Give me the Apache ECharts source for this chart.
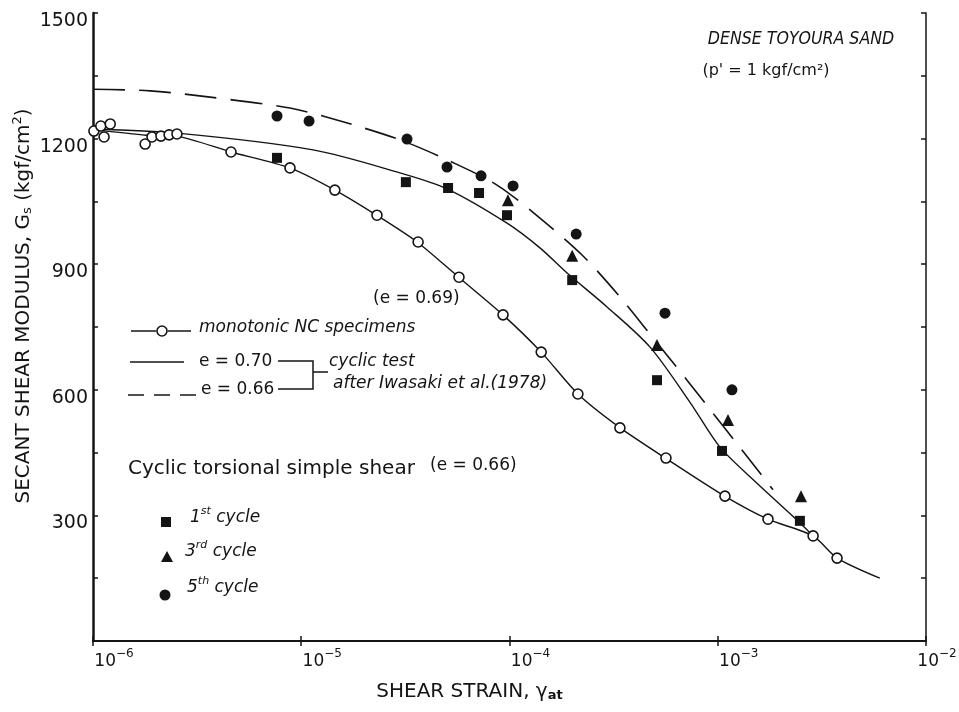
<!DOCTYPE html>
<html>
<head>
<meta charset="utf-8">
<script src="https://cdn.jsdelivr.net/npm/echarts@6/dist/echarts.min.js"></script>
<style>
  html, body { margin: 0; padding: 0; background: #ffffff; }
  #chart { width: 959px; height: 712px; }
</style>
</head>
<body>
<div id="chart"></div>
<script>
const FONT = '"DejaVu Sans", "Liberation Sans", sans-serif';
const INK = '#141414';

// axis ticks
const strainDecades = [-6, -5, -4, -3, -2];
const modulusLabels = [300, 600, 900, 1200, 1500];

// monotonic NC specimens (e = 0.69), measured points
const monoStrain = [1.01e-6, 1.09e-6, 1.21e-6, 1.13e-6, 1.78e-6, 1.92e-6, 2.12e-6, 2.32e-6, 2.53e-6,
  4.60e-6, 8.83e-6, 1.45e-5, 2.31e-5, 3.64e-5, 5.72e-5, 9.31e-5, 1.42e-4, 2.13e-4, 3.39e-4,
  5.64e-4, 1.083e-3, 1.743e-3, 2.87e-3, 3.74e-3];
const monoG = [1218, 1230, 1235, 1204, 1187, 1204, 1206, 1209, 1211,
  1168, 1130, 1077, 1017, 953, 869, 779, 690, 590, 509,
  437, 346, 291, 251, 198];

// fitted curve through the monotonic points
const monoCurveStrain = [1.0e-6, 1.8e-6, 2.5e-6, 4.6e-6, 8.8e-6, 1.45e-5, 2.3e-5, 3.6e-5, 5.7e-5,
  9.3e-5, 1.42e-4, 2.13e-4, 3.4e-4, 5.6e-4, 1.08e-3, 1.74e-3, 2.87e-3, 3.74e-3, 6.0e-3];
const monoCurveG = [1222, 1208, 1206, 1168, 1130, 1077, 1017, 953, 869,
  779, 690, 590, 509, 437, 346, 291, 251, 198, 150];

// cyclic test after Iwasaki et al. (1978), e = 0.70
const iwasaki70Strain = [1.0e-6, 2.53e-6, 1.14e-5, 2.98e-5, 5.01e-5, 9.73e-5, 1.40e-4, 1.89e-4,
  2.94e-4, 4.73e-4, 7.36e-4, 1.025e-3, 1.543e-3, 2.40e-3, 2.87e-3];
const iwasaki70G = [1223, 1213, 1173, 1118, 1080, 998, 939, 879,
  798, 702, 570, 463, 377, 289, 251];

// cyclic test after Iwasaki et al. (1978), e = 0.66
const iwasaki66Strain = [1.0e-6, 1.88e-6, 3.65e-6, 8.83e-6, 1.54e-5, 2.98e-5, 5.18e-5, 8.71e-5,
  1.40e-4, 2.23e-4, 3.39e-4, 4.89e-4, 7.12e-4, 1.07e-3, 1.596e-3, 1.842e-3];
const iwasaki66G = [1318, 1314, 1299, 1273, 1242, 1197, 1146, 1089,
  1010, 922, 822, 724, 623, 511, 401, 361];

// cyclic torsional simple shear (e = 0.66)
const cycle1Strain = [7.65e-6, 3.18e-5, 5.07e-5, 7.14e-5, 9.73e-5, 2.00e-4, 5.11e-4, 1.048e-3, 2.48e-3];
const cycle1G = [1154, 1096, 1082, 1070, 1017, 862, 623, 454, 287];
const cycle3Strain = [9.83e-5, 2.00e-4, 5.11e-4, 1.12e-3, 2.51e-3];
const cycle3G = [1053, 920, 707, 528, 346];
const cycle5Strain = [7.65e-6, 1.09e-5, 3.22e-5, 5.01e-5, 7.30e-5, 1.04e-4, 2.09e-4, 5.58e-4, 1.17e-3];
const cycle5G = [1254, 1242, 1199, 1132, 1111, 1087, 972, 783, 600];

const pairs = (xs, ys) => xs.map((x, i) => [x, ys[i]]);

const chart = echarts.init(document.getElementById('chart'), null, { renderer: 'canvas' });

const axisLineStyle = { color: INK, width: 2 };
const tickStyle = { show: true, inside: true, length: 5, lineStyle: { color: INK, width: 1.5 } };

function text(x, y, str, size, opts) {
  opts = opts || {};
  const el = {
    type: 'text', x: x, y: y, silent: true,
    style: Object.assign({
      text: str, fontSize: size, fontFamily: FONT, fill: INK,
      fontStyle: opts.italic ? 'italic' : 'normal',
      align: opts.align || 'left', verticalAlign: 'middle'
    }, opts.style || {})
  };
  if (opts.scaleX) el.scaleX = opts.scaleX;
  return el;
}
function seg(x1, y1, x2, y2, dash) {
  return {
    type: 'line', silent: true,
    shape: { x1: x1, y1: y1, x2: x2, y2: y2 },
    style: { stroke: INK, lineWidth: 1.5, lineDash: dash || null }
  };
}
function ordinal(x, y, num, suffix) {
  return {
    type: 'text', x: x, y: y, silent: true,
    style: {
      text: '{n|' + num + '}{s|' + suffix + '}{n| cycle}',
      align: 'left', verticalAlign: 'middle', fill: INK,
      rich: {
        n: { fontSize: 17, fontFamily: FONT, fontStyle: 'italic', fill: INK, lineHeight: 26 },
        s: { fontSize: 11, fontFamily: FONT, fontStyle: 'italic', fill: INK, padding: [0, 0, 14, 0] }
      }
    }
  };
}

const option = {
  backgroundColor: '#ffffff',
  animation: false,
  grid: { left: 93, right: 33, top: 13, bottom: 71, outerBoundsMode: 'none' },
  xAxis: [
    {
      type: 'log', logBase: 10, min: 1e-6, max: 1e-2, position: 'bottom',
      axisLine: { show: true, lineStyle: axisLineStyle },
      axisTick: tickStyle,
      splitLine: { show: false },
      minorTick: { show: false },
      axisLabel: {
        margin: 7, align: 'center',
        // a leading spacer pushes each power of ten to the right of its tick;
        // the last one gets a shorter spacer so it stays inside the canvas
        formatter: function (v) {
          const e = Math.round(Math.log10(v));
          if (!strainDecades.includes(e)) return '';
          const pad = e === strainDecades[strainDecades.length - 1] ? '{ps| }' : '{pl| }';
          return pad + '{b|10}{e|\u2212' + Math.abs(e) + '}';
        },
        rich: {
          pl: { width: 42, fontSize: 12 },
          ps: { width: 22, fontSize: 12 },
          b: { fontSize: 17, fontFamily: FONT, color: INK, lineHeight: 28 },
          e: { fontSize: 12, fontFamily: FONT, color: INK, padding: [0, 0, 16, 0] }
        }
      },
      name: '{t|SHEAR STRAIN, }{g|\u03b3}{s|at}',
      nameLocation: 'middle', nameGap: 38, nameMoveOverlap: false,
      nameTextStyle: {
        padding: [0, 80, 0, 0],
        rich: {
          t: { fontSize: 20, fontFamily: FONT, color: INK, lineHeight: 26 },
          g: { fontSize: 20, fontFamily: FONT, color: INK },
          s: { fontSize: 13, fontFamily: FONT, color: INK, fontWeight: 'bold', padding: [8, 0, 0, 0] }
        }
      }
    },
    {
      type: 'log', logBase: 10, min: 1e-6, max: 1e-2, position: 'top',
      axisLine: { show: true, lineStyle: { color: INK, width: 1.5 } },
      axisTick: tickStyle,
      axisLabel: { show: false },
      splitLine: { show: false }
    }
  ],
  yAxis: [
    {
      type: 'value', min: 0, max: 1500, interval: 150, position: 'left',
      axisLine: { show: true, lineStyle: { color: INK, width: 2.5 } },
      axisTick: tickStyle,
      splitLine: { show: false },
      axisLabel: {
        margin: 5,
        formatter: function (v) { return modulusLabels.includes(v) ? '{v|' + v + '}' : ''; },
        rich: {
          v: { fontSize: 19, fontFamily: FONT, color: INK, padding: [16, 0, 0, 0] }
        }
      },
      name: '{t|SECANT SHEAR MODULUS, G}{b|s}{t| (kgf/cm}{p|2}{t|)}',
      nameLocation: 'middle', nameGap: 56, nameRotate: 90, nameMoveOverlap: false,
      nameTextStyle: {
        padding: [0, 0, 0, 42],
        rich: {
          t: { fontSize: 20, fontFamily: FONT, color: INK, lineHeight: 26 },
          b: { fontSize: 13, fontFamily: FONT, color: INK, padding: [8, 0, 0, 0] },
          p: { fontSize: 13, fontFamily: FONT, color: INK, padding: [0, 0, 12, 0] }
        }
      }
    },
    {
      type: 'value', min: 0, max: 1500, interval: 150, position: 'right',
      axisLine: { show: true, lineStyle: { color: INK, width: 1.5 } },
      axisTick: tickStyle,
      axisLabel: { show: false },
      splitLine: { show: false }
    }
  ],
  series: [
    {
      name: 'monotonic curve', type: 'line', data: pairs(monoCurveStrain, monoCurveG),
      showSymbol: false, smooth: 0.25, silent: true,
      lineStyle: { color: INK, width: 1.4 }, z: 2
    },
    {
      name: 'e = 0.70', type: 'line', data: pairs(iwasaki70Strain, iwasaki70G),
      showSymbol: false, smooth: 0.3, silent: true,
      lineStyle: { color: INK, width: 1.4 }, z: 2
    },
    {
      name: 'e = 0.66', type: 'line', data: pairs(iwasaki66Strain, iwasaki66G),
      showSymbol: false, smooth: 0.3, silent: true,
      lineStyle: { color: INK, width: 1.6, type: [32, 14] }, z: 2
    },
    {
      name: 'monotonic NC specimens', type: 'scatter', data: pairs(monoStrain, monoG),
      symbol: 'circle', symbolSize: 10,
      itemStyle: { color: '#ffffff', borderColor: INK, borderWidth: 1.6, opacity: 1 }, z: 3
    },
    {
      name: '1st cycle', type: 'scatter', data: pairs(cycle1Strain, cycle1G),
      symbol: 'rect', symbolSize: 10, itemStyle: { color: INK, opacity: 1 }, z: 4
    },
    {
      name: '3rd cycle', type: 'scatter', data: pairs(cycle3Strain, cycle3G),
      symbol: 'triangle', symbolSize: 12, itemStyle: { color: INK, opacity: 1 }, z: 4
    },
    {
      name: '5th cycle', type: 'scatter', data: pairs(cycle5Strain, cycle5G),
      symbol: 'circle', symbolSize: 11, itemStyle: { color: INK, opacity: 1 }, z: 4
    }
  ],
  graphic: [
    text(801, 39, 'DENSE TOYOURA SAND', 18, { italic: true, align: 'center', scaleX: 0.88 }),
    text(766, 71, "(p' = 1 kgf/cm\u00b2)", 16, { align: 'center' }),

    text(373, 299, '(e = 0.69)', 17),
    seg(131, 331, 156, 331),
    { type: 'circle', silent: true, shape: { cx: 162, cy: 331, r: 5 },
      style: { fill: '#ffffff', stroke: INK, lineWidth: 1.6 } },
    seg(168, 331, 191, 331),
    text(199, 328, 'monotonic NC specimens', 17, { italic: true }),

    seg(130, 362, 184, 362),
    text(199, 362, 'e = 0.70', 17),
    seg(128, 395, 197, 395, [16, 10]),
    text(201, 390, 'e = 0.66', 17),
    { type: 'polyline', silent: true,
      shape: { points: [[278, 361], [313, 361], [313, 389], [278, 389]] },
      style: { stroke: INK, lineWidth: 1.5, fill: null } },
    seg(313, 372, 328, 372),
    text(329, 362, 'cyclic test', 17, { italic: true }),
    text(333, 384, 'after Iwasaki et al.(1978)', 17, { italic: true }),

    text(128, 469, 'Cyclic torsional simple shear', 20),
    text(430, 466, '(e = 0.66)', 17),

    { type: 'rect', silent: true, shape: { x: 161, y: 517, width: 10, height: 10 },
      style: { fill: INK } },
    ordinal(190, 518, '1', 'st'),
    { type: 'polygon', silent: true, shape: { points: [[167, 551], [173, 562], [161, 562]] },
      style: { fill: INK } },
    ordinal(185, 552, '3', 'rd'),
    { type: 'circle', silent: true, shape: { cx: 165, cy: 595, r: 5.5 },
      style: { fill: INK } },
    ordinal(187, 588, '5', 'th')
  ]
};

chart.setOption(option);
</script>
</body>
</html>
